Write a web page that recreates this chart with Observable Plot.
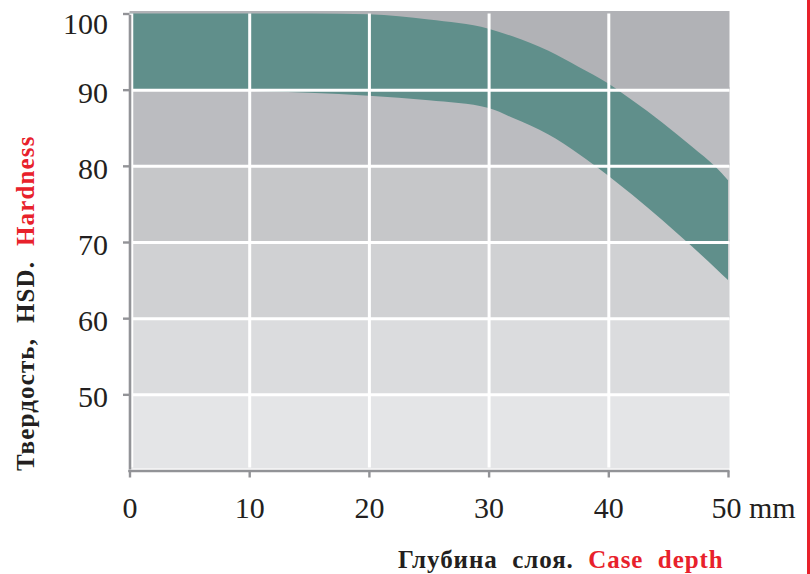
<!DOCTYPE html>
<html>
<head>
<meta charset="utf-8">
<script src="https://cdn.jsdelivr.net/npm/d3@7"></script>
<script src="https://cdn.jsdelivr.net/npm/@observablehq/plot@0.6"></script>
<style>
  html, body { margin: 0; padding: 0; background: #fff; }
  body { width: 810px; height: 574px; overflow: hidden; position: relative; font-family: "Liberation Serif", "Times New Roman", serif; color: #231f20; }
  #chart { position: absolute; left: 0; top: 0; }
  .ytitle { position: absolute; left: 13px; top: 471px; transform-origin: 0 0; transform: rotate(-90deg);
            white-space: pre; font-weight: bold; font-size: 25px; line-height: 25px; letter-spacing: 1.15px; }
  .caption { position: absolute; left: 398px; top: 547px; white-space: pre; font-weight: bold;
             font-size: 25px; line-height: 25px; letter-spacing: 0.95px; }
  .red { color: #e8212b; }
  .edge { position: absolute; left: 807px; top: 0; width: 2.5px; height: 574px; background: #e8212b; }
</style>
</head>
<body>
<div id="chart"></div>
<div class="ytitle">Твердость,  HSD.  <span class="red">Hardness</span></div>
<div class="caption">Глубина  слоя.  <span class="red">Case  depth</span></div>
<div class="edge"></div>
<script>
// Case depth, mm
const depth = [0, 10, 15, 20, 25, 30, 32, 35, 37.5, 40, 42, 44.5, 47, 49, 50];
// Hardness band, HSD
const upper = [100, 100, 100, 99.9, 99.2, 98.0, 97.0, 95.1, 93.0, 90.8, 88.6, 85.7, 82.5, 79.8, 78.1];
const lower = [90, 89.85, 89.6, 89.2, 88.6, 87.6, 86.3, 84.1, 81.6, 78.7, 76.2, 72.9, 69.4, 66.5, 65.0];
// Tick labels
const xTicks = [0, 10, 20, 30, 40, 50];
const yTicks = [50, 60, 70, 80, 90, 100];
// Background bands (hardness ranges)
const bandLo = [40, 50, 60, 70, 80, 90];
const bandHi = [50, 60, 70, 80, 90, 100];

const ink = "#231f20";
const axisGray = "#929397";
const teal = "#608f8b";

const rows = depth.map((d, i) => ({depth: d, lower: lower[i], upper: upper[i]}));
const bands = bandLo.map((lo, i) => ({lo, hi: bandHi[i]}));
const xMin = d3.min(depth), xMax = d3.max(depth);
const yMin = d3.min(bandLo), yMax = d3.max(bandHi);

const chart = Plot.plot({
  width: 810,
  height: 530,
  marginLeft: 129.5,
  marginRight: 82,
  marginTop: 13.5,
  marginBottom: 59.5,
  x: {domain: [xMin, xMax], range: [129.5, 728]},
  y: {domain: [yMin, yMax], range: [470.5, 13.5]},
  color: {type: "ordinal", domain: bandLo, range: ["#e4e5e7", "#dbdcde", "#d0d1d3", "#c6c7c9", "#bbbcc0", "#b1b2b6"]},
  style: {background: "transparent", fontFamily: "'Liberation Serif', serif", overflow: "visible"},
  marks: [
    Plot.rect(bands, {x1: xMin, x2: xMax, y1: "lo", y2: "hi", fill: "lo", insetTop: -2.5, insetRight: -1.5}),
    Plot.areaY(rows, {x: "depth", y1: "lower", y2: "upper", fill: teal, curve: "monotone-x"}),
    // white grid
    Plot.ruleX(xTicks.filter(v => v > xMin && v < xMax), {y1: yMin, y2: yMax, stroke: "white", strokeWidth: 3, insetTop: -3}),
    Plot.ruleY(yTicks.filter(v => v < yMax), {x1: xMin, x2: xMax, stroke: "white", strokeWidth: 3, insetRight: -1.5}),
    // gaps along axes
    Plot.ruleX([xMin], {y1: yMin, y2: yMax, stroke: "white", strokeWidth: 6.5, insetTop: -3}),
    Plot.ruleY([yMin], {x1: xMin, x2: xMax, stroke: "white", strokeWidth: 5, insetRight: -2}),
    // axis lines
    Plot.ruleX([xMin], {y1: yMin, y2: yMax, stroke: axisGray, strokeWidth: 2.6, insetBottom: -1.3, insetTop: -1}),
    Plot.ruleY([yMin], {x1: xMin, x2: xMax, stroke: axisGray, strokeWidth: 2.6, insetLeft: -1.3, insetRight: -1.3}),
    Plot.axisY(yTicks, {tickSize: 6.5, tickFormat: () => "", stroke: axisGray, strokeWidth: 2.4, label: null}),
    Plot.axisX(xTicks, {tickSize: 7, tickFormat: () => "", stroke: axisGray, strokeWidth: 2.4, label: null}),
    // tick labels
    Plot.text(yTicks.filter(v => v < yMax), {x: xMin, y: d => d, text: d => String(d), textAnchor: "end", dx: -22, dy: 3, fontSize: 30, fill: ink}),
    Plot.text(yTicks.filter(v => v === yMax), {x: xMin, y: d => d, text: d => String(d), textAnchor: "end", dx: -22, dy: 10, fontSize: 30, fill: ink}),
    Plot.text(xTicks.filter(v => v < xMax), {x: d => d, y: yMin, text: d => String(d), textAnchor: "middle", dy: 37, fontSize: 30, fill: ink}),
    Plot.text(xTicks.filter(v => v === xMax), {x: d => d, y: yMin, text: d => d + " mm", textAnchor: "start", dx: -17, dy: 37, fontSize: 30, fill: ink})
  ]
});
document.getElementById("chart").appendChild(chart);
</script>
</body>
</html>
